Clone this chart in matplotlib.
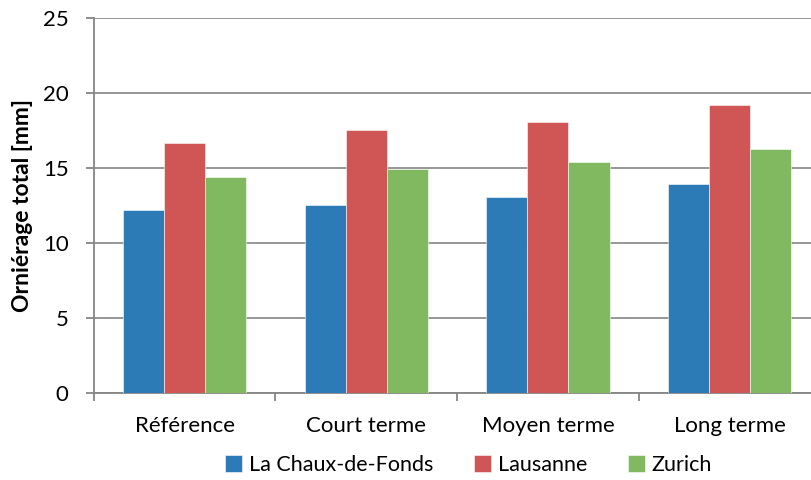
import matplotlib
matplotlib.use('Agg')
import matplotlib.pyplot as plt
import numpy as np

categories = ['Référence', 'Court terme', 'Moyen terme', 'Long terme']
series_names = ['La Chaux-de-Fonds', 'Lausanne', 'Zurich']
chaux = [12.2, 12.55, 13.07, 13.93]
lausanne = [16.69, 17.55, 18.07, 19.2]
zurich = [14.44, 14.93, 15.44, 16.29]
colors = ['#2C7BB6', '#D05555', '#80B95F']

plt.rcParams['font.family'] = ['Lato', 'DejaVu Sans']

fig = plt.figure(figsize=(8.11, 4.8), dpi=100)
ax = fig.add_axes([93.7 / 811, 86.7 / 480, (820.5 - 93.7) / 811, 375 / 480])

x = np.arange(len(categories))
w = 0.226
for i, (vals, name) in enumerate(zip([chaux, lausanne, zurich], series_names)):
    ax.bar(x + (i - 1) * w, vals, w, color=colors[i], label=name,
           edgecolor='white', linewidth=0.4, zorder=3)

ax.set_xlim(-0.5, 3.5)
ax.set_ylim(0, 25)
ax.set_yticks(range(0, 26, 5))
ax.grid(axis='y', color='#8f8f8f', linewidth=1.3, zorder=0)
ax.set_axisbelow(True)

for s in ['top', 'right']:
    ax.spines[s].set_visible(False)
for s in ['left', 'bottom']:
    ax.spines[s].set_color('#868686')
    ax.spines[s].set_linewidth(1.3)

fs = 16
ax.set_xticks(x)
ax.set_xticklabels(categories, fontsize=fs)
ax.set_xticks(np.arange(-0.5, 4, 1), minor=True)
ax.tick_params(axis='x', which='major', length=0, pad=16)
ax.tick_params(axis='x', which='minor', length=6, color='#868686', width=1.3)
ax.tick_params(axis='y', length=6, color='#868686', width=1.3, pad=12, labelsize=fs)

ax.set_ylabel('Orniérage total [mm]', fontsize=16.5, fontweight='bold', labelpad=7)

fig.legend(loc='center', bbox_to_anchor=(0.578, 0.031), ncol=3, frameon=False,
           fontsize=15.5, handlelength=0.8, handleheight=0.8, handletextpad=0.3,
           columnspacing=1.9, borderpad=0)

fig.savefig('out.png', dpi=100)
